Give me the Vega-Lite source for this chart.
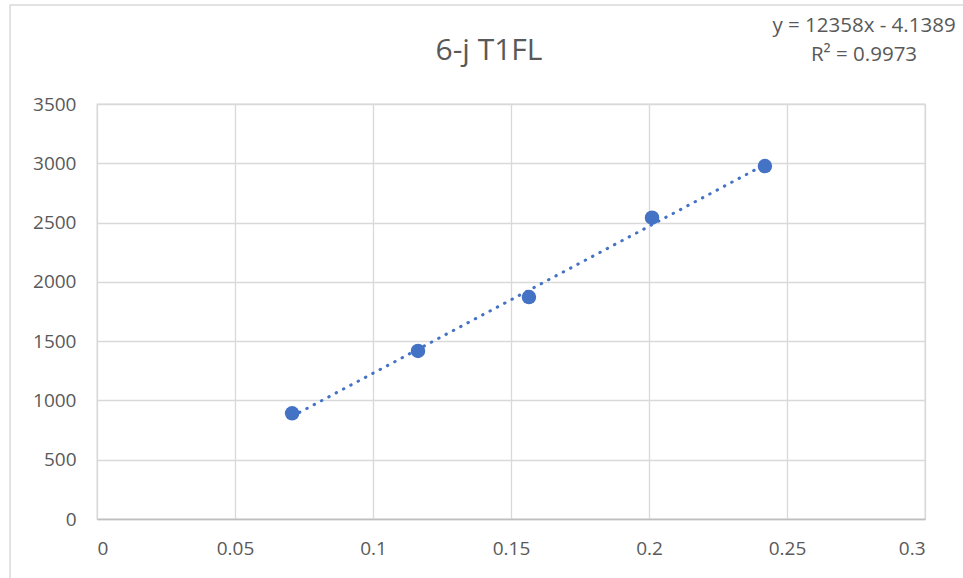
{
  "$schema": "https://vega.github.io/schema/vega-lite/v6.json",
  "width": 828,
  "height": 415,
  "autosize": {"type": "none"},
  "padding": {"left": 97, "top": 104, "right": 38, "bottom": 59},
  "background": "white",
  "title": {
    "text": "6-j T1FL",
    "font": "Open Sans",
    "fontSize": 30,
    "fontWeight": "normal",
    "color": "#595959",
    "frame": "group",
    "offset": 0,
    "dy": 62,
    "dx": -22
  },
  "config": {
    "view": {"stroke": "#d9d9d9", "strokeWidth": 1.3},
    "font": "Open Sans"
  },
  "datasets": {
    "points": [
      {"x": 0.0707, "y": 891},
      {"x": 0.1163, "y": 1417},
      {"x": 0.1565, "y": 1872},
      {"x": 0.2011, "y": 2541},
      {"x": 0.2420, "y": 2977}
    ],
    "eq": [
      {"label": "y = 12358x - 4.1389\nR² = 0.9973"}
    ],
    "frame": [
      {"name": "chart area"}
    ]
  },
  "layer": [
    {
      "data": {"name": "frame"},
      "mark": {"type": "rect", "fill": null, "fillOpacity": 0, "stroke": "#d9d9d9", "strokeWidth": 1.5, "clip": false},
      "encoding": {
        "x": {"datum": -0.0315, "type": "quantitative"},
        "x2": {"datum": 0.35},
        "y": {"datum": 4335, "type": "quantitative"},
        "y2": {"datum": -700}
      }
    },
    {
      "data": {"name": "points"},
      "mark": {"type": "line", "color": "#4472C4", "strokeWidth": 3, "strokeCap": "round", "strokeDash": [0.5, 7.8]},
      "transform": [{"regression": "y", "on": "x", "method": "linear"}],
      "encoding": {
        "x": {
          "field": "x", "type": "quantitative",
          "scale": {"domain": [0, 0.3], "nice": false, "zero": false},
          "axis": {
            "title": null,
            "values": [0, 0.05, 0.1, 0.15, 0.2, 0.25, 0.3],
            "format": "~g",
            "grid": true, "gridColor": "#d9d9d9", "gridWidth": 1.3,
            "domain": true, "domainColor": "#bfbfbf", "domainWidth": 1.5,
            "ticks": false,
            "labelFont": "Open Sans", "labelFontSize": 19, "labelColor": "#595959",
            "labelPadding": 20
          }
        },
        "y": {
          "field": "y", "type": "quantitative",
          "scale": {"domain": [0, 3500], "nice": false, "zero": false},
          "axis": {
            "title": null,
            "values": [0, 500, 1000, 1500, 2000, 2500, 3000, 3500],
            "format": "d",
            "grid": true, "gridColor": "#d9d9d9", "gridWidth": 1.3,
            "domain": false,
            "ticks": false,
            "labelFont": "Open Sans", "labelFontSize": 19, "labelColor": "#595959",
            "labelPadding": 21
          }
        }
      }
    },
    {
      "data": {"name": "points"},
      "mark": {"type": "point", "filled": true, "size": 210, "color": "#4472C4", "opacity": 1},
      "encoding": {
        "x": {"field": "x", "type": "quantitative"},
        "y": {"field": "y", "type": "quantitative"}
      }
    },
    {
      "data": {"name": "eq"},
      "mark": {"type": "text", "font": "Open Sans", "fontSize": 20.5, "color": "#595959", "align": "center", "baseline": "middle", "lineBreak": "\n", "lineHeight": 29, "clip": false},
      "encoding": {
        "x": {"datum": 0.2779, "type": "quantitative"},
        "y": {"datum": 4154, "type": "quantitative"},
        "text": {"field": "label"}
      }
    }
  ]
}
